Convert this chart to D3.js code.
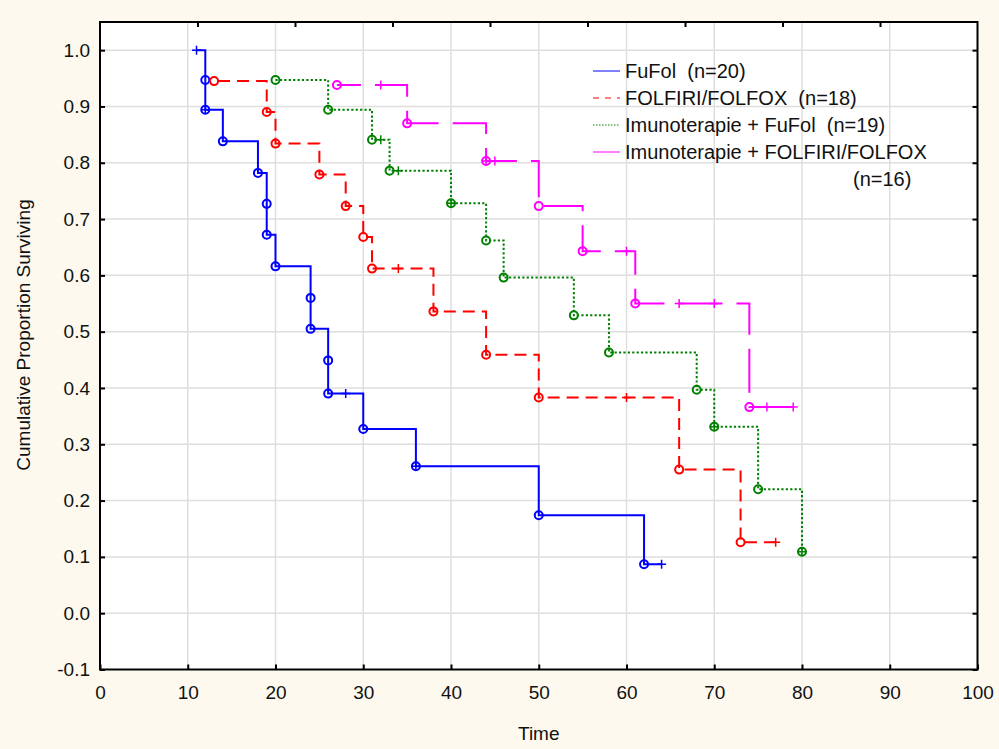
<!DOCTYPE html>
<head>
  <meta charset="utf-8">
  <script src="https://d3js.org/d3.v7.min.js"></script>
  <style>
    body { margin:0; background:#fdf9ef; }
    text { font-family: "Liberation Sans", Arial, sans-serif; fill:#111; }
    .axis path { display:none; }
    .axis line { stroke:#000; stroke-width:2px; }
    .axis text { font-size:19px; }
    .grid line { stroke:#dedede; stroke-width:1.5px; }
    .km { fill:none; stroke-width:2px; }
    .legend text { font-size:20px; white-space:pre; }
  </style>
</head>
<body>
  <svg id="chart"></svg>
  <script>
  var width = 999, height = 749;

  // tick labels
  var xTicks = [0, 10, 20, 30, 40, 50, 60, 70, 80, 90, 100];
  var yTicks = [-0.1, 0.0, 0.1, 0.2, 0.3, 0.4, 0.5, 0.6, 0.7, 0.8, 0.9, 1.0];

  // group names
  var groups = ["FuFol  (n=20)", "FOLFIRI/FOLFOX  (n=18)", "Imunoterapie + FuFol  (n=19)", "Imunoterapie + FOLFIRI/FOLFOX"];

  // FuFol: time, cumulative proportion surviving, censored flag (1 = censored)
  var fufolTime = [11, 12, 12, 12, 14, 18, 19, 19, 20, 24, 24, 26, 26, 28, 30, 36, 36, 50, 62, 64];
  var fufolSurv = [1.0, 0.947, 0.894, 0.894, 0.838, 0.782, 0.727, 0.672, 0.616, 0.560, 0.505, 0.449, 0.390, 0.390, 0.327, 0.261, 0.261, 0.174, 0.087, 0.087];
  var fufolCens = [1, 0, 0, 1, 0, 0, 0, 0, 0, 0, 0, 0, 0, 1, 0, 0, 1, 0, 0, 1];

  // FOLFIRI/FOLFOX
  var folfTime = [13, 19, 20, 25, 28, 30, 31, 34, 38, 44, 50, 60, 66, 73, 77];
  var folfSurv = [0.945, 0.890, 0.834, 0.779, 0.723, 0.668, 0.612, 0.612, 0.536, 0.459, 0.383, 0.383, 0.255, 0.126, 0.126];
  var folfCens = [0, 0, 0, 0, 0, 0, 0, 1, 0, 0, 0, 1, 0, 0, 1];

  // Imunoterapie + FuFol
  var imFufolTime = [20, 26, 31, 32, 33, 34, 40, 40, 44, 46, 54, 58, 68, 70, 70, 75, 80, 80];
  var imFufolSurv = [0.947, 0.894, 0.841, 0.841, 0.786, 0.786, 0.728, 0.728, 0.662, 0.596, 0.529, 0.463, 0.397, 0.331, 0.331, 0.220, 0.109, 0.109];
  var imFufolCens = [0, 0, 0, 1, 0, 1, 0, 1, 0, 0, 0, 0, 0, 0, 1, 0, 0, 1];

  // Imunoterapie + FOLFIRI/FOLFOX
  var imFolfTime = [27, 32, 35, 44, 44, 45, 50, 55, 60, 61, 66, 70, 74, 76, 79];
  var imFolfSurv = [0.938, 0.938, 0.870, 0.803, 0.803, 0.803, 0.723, 0.643, 0.643, 0.550, 0.550, 0.550, 0.366, 0.366, 0.366];
  var imFolfCens = [0, 1, 0, 0, 1, 1, 0, 0, 1, 0, 1, 1, 0, 1, 1];

  var series = [
    {name: groups[0], time: fufolTime, surv: fufolSurv, cens: fufolCens, color: "#0000ff", dash: null, offset: 0},
    {name: groups[1], time: folfTime, surv: folfSurv, cens: folfCens, color: "#ff0000", dash: "12,7", offset: -4},
    {name: groups[2], time: imFufolTime, surv: imFufolSurv, cens: imFufolCens, color: "#008000", dash: "2.2,2.2", offset: 0},
    {name: groups[3], time: imFolfTime, surv: imFolfSurv, cens: imFolfCens, color: "#ff00ff", dash: "44,14", offset: 20}
  ];

  var plot = {left: 100, right: 977.5, top: 22, bottom: 669.5};

  var svg = d3.select("#chart")
    .attr("width", width)
    .attr("height", height);

  var xScale = d3.scaleLinear()
    .domain([0, 100])
    .range([plot.left, plot.right]);

  var yScale = d3.scaleLinear()
    .domain([-0.1, 1.05])
    .range([plot.bottom, plot.top]);

  // secondary top scale with 9 intervals (ticks only)
  var topScale = d3.scaleLinear()
    .domain([0, 9])
    .range([plot.left, plot.right]);

  // plot background
  svg.append("rect")
    .attr("x", plot.left)
    .attr("y", plot.top)
    .attr("width", plot.right - plot.left)
    .attr("height", plot.bottom - plot.top)
    .attr("fill", "#fff");

  // grid
  var grid = svg.append("g").attr("class", "grid");
  grid.selectAll(".gx")
    .data(xTicks.slice(1, -1))
    .enter().append("line")
    .attr("x1", function(d) { return xScale(d); })
    .attr("x2", function(d) { return xScale(d); })
    .attr("y1", plot.top)
    .attr("y2", plot.bottom);
  grid.selectAll(".gy")
    .data(yTicks.slice(1))
    .enter().append("line")
    .attr("x1", plot.left)
    .attr("x2", plot.right)
    .attr("y1", function(d) { return yScale(d); })
    .attr("y2", function(d) { return yScale(d); });

  // axes, ticks pointing inward
  var fmtY = function(d) { return d3.format(".1f")(d).replace("\u2212", "-"); };

  svg.append("g")
    .attr("class", "axis")
    .attr("transform", "translate(0," + plot.bottom + ")")
    .call(d3.axisBottom(xScale).tickValues(xTicks).tickSize(-5).tickPadding(16).tickFormat(d3.format("d")));

  svg.append("g")
    .attr("class", "axis")
    .attr("transform", "translate(" + plot.left + ",0)")
    .call(d3.axisLeft(yScale).tickValues(yTicks).tickSize(-5).tickPadding(10).tickFormat(fmtY));

  svg.append("g")
    .attr("class", "axis")
    .attr("transform", "translate(" + plot.right + ",0)")
    .call(d3.axisRight(yScale).tickValues(yTicks).tickSize(-5).tickFormat(""));

  svg.append("g")
    .attr("class", "axis")
    .attr("transform", "translate(0," + plot.top + ")")
    .call(d3.axisTop(topScale).tickValues(d3.range(1, 9)).tickSize(-5).tickFormat(""));

  // frame
  svg.append("rect")
    .attr("x", plot.left)
    .attr("y", plot.top)
    .attr("width", plot.right - plot.left)
    .attr("height", plot.bottom - plot.top)
    .attr("fill", "none")
    .attr("stroke", "#000")
    .attr("stroke-width", 2);

  // axis titles
  svg.append("text")
    .attr("x", (plot.left + plot.right) / 2)
    .attr("y", 740)
    .attr("text-anchor", "middle")
    .style("font-size", "19px")
    .text("Time");

  svg.append("text")
    .attr("transform", "translate(30,335) rotate(-90)")
    .attr("text-anchor", "middle")
    .style("font-size", "19px")
    .text("Cumulative Proportion Surviving");

  // survival curves
  var kmLine = d3.line()
    .x(function(d) { return xScale(d[0]); })
    .y(function(d) { return yScale(d[1]); })
    .curve(d3.curveStepAfter);

  var plusPath = "M-4.5,0H4.5M0,-4.5V4.5";

  series.forEach(function(s) {
    var pts = s.time.map(function(t, i) { return [t, s.surv[i], s.cens[i]]; });
    var g = svg.append("g");

    g.append("path")
      .attr("class", "km")
      .attr("d", kmLine(pts))
      .attr("stroke", s.color)
      .attr("stroke-dasharray", s.dash)
      .attr("stroke-dashoffset", s.offset);

    g.selectAll("circle")
      .data(pts.filter(function(d) { return d[2] === 0; }))
      .enter().append("circle")
      .attr("cx", function(d) { return xScale(d[0]); })
      .attr("cy", function(d) { return yScale(d[1]); })
      .attr("r", 4)
      .attr("fill", "none")
      .attr("stroke", s.color)
      .attr("stroke-width", 2);

    g.selectAll(".cens")
      .data(pts.filter(function(d) { return d[2] === 1; }))
      .enter().append("path")
      .attr("class", "cens")
      .attr("d", plusPath)
      .attr("transform", function(d) { return "translate(" + xScale(d[0]) + "," + yScale(d[1]) + ")"; })
      .attr("fill", "none")
      .attr("stroke", s.color)
      .attr("stroke-width", 1.5);
  });

  // legend
  var legend = svg.append("g").attr("class", "legend");
  var legendTop = 78, legendStep = 27;
  series.forEach(function(s, i) {
    var yy = legendTop + i * legendStep;
    legend.append("line")
      .attr("x1", 593)
      .attr("x2", 620)
      .attr("y1", yy - 7)
      .attr("y2", yy - 7)
      .attr("stroke", s.color)
      .attr("stroke-width", 1)
      .attr("stroke-dasharray", i === 1 ? "6,6" : (i === 2 ? "1.5,1.5" : null));
    legend.append("text")
      .attr("x", 625)
      .attr("y", yy)
      .text(s.name);
  });
  legend.append("text")
    .attr("x", 853)
    .attr("y", legendTop + 4 * legendStep)
    .text("(n=16)");
  </script>
</body>
